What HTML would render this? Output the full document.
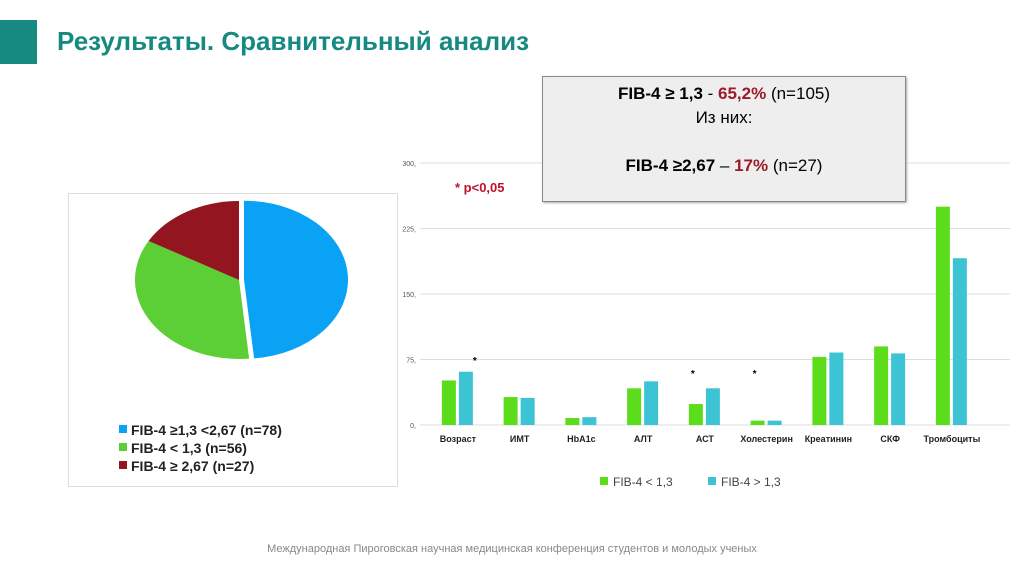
<!DOCTYPE html>
<html><head><meta charset="utf-8"><style>
body{margin:0;width:1024px;height:574px;background:#fff;font-family:"Liberation Sans",sans-serif;position:relative;overflow:hidden}
.abs{position:absolute}
</style></head><body>
<div class="abs" style="left:0;top:20px;width:37px;height:44px;background:#168a80"></div>
<div class="abs" style="left:57px;top:26px;font-size:26px;font-weight:bold;color:#168a80;transform:scaleX(1.0);transform-origin:left">Результаты. Сравнительный анализ</div>
<div class="abs" style="left:68px;top:193px;width:328px;height:292px;border:1px solid #ddd"></div>
<svg class="abs" style="left:0;top:0" width="1024" height="574" id="svg"></svg>
<div class="abs" style="left:542px;top:76px;width:364px;height:126px;background:#eee;border:1.5px solid #888;box-shadow:1px 1px 2px #aaa;text-align:center;font-size:17px;line-height:24px;padding-top:5px;box-sizing:border-box">
<div><b>FIB-4 ≥ 1,3</b> - <b style="color:#9b1b2a">65,2%</b> (n=105)</div>
<div>Из них:</div><div>&nbsp;</div>
<div><b>FIB-4 ≥2,67</b> – <b style="color:#9b1b2a">17%</b> (n=27)</div></div>
<div class="abs" style="left:455px;top:180px;font-size:13px;font-weight:bold;color:#c0102a">* p&lt;0,05</div>
<div class="abs" style="left:0;width:1024px;top:543px;text-align:center;font-size:11px;color:#888">Международная Пироговская научная медицинская конференция студентов и молодых ученых</div>
<script>
const categories=["Возраст","ИМТ","HbA1c","АЛТ","АСТ","Холестерин","Креатинин","СКФ","Тромбоциты"];
const seriesLow=[51,32,8,42,24,5,78,90,250];
const seriesHigh=[61,31,9,50,42,5,83,82,191];
const ticks=[0,75,150,225,300];
const starred=[0,4,5];
const pieLabels=["FIB-4 ≥1,3 <2,67 (n=78)","FIB-4 < 1,3 (n=56)","FIB-4 ≥ 2,67 (n=27)"];
const pieValues=[78,56,27];
const pieColors=["#0aa2f5","#5ccf36","#92151f"];
const NS="http://www.w3.org/2000/svg",svg=document.getElementById('svg');
function mk(t,a,p){const e=document.createElementNS(NS,t);for(const k in a)e.setAttribute(k,a[k]);(p||svg).appendChild(e);return e;}
const y=v=>425-v*(262/300), x0=427, step=61.75, gx0=420, gx1=1010;
ticks.forEach(t=>{
 const l=mk('line',{x1:gx0,x2:gx1,y1:y(t),y2:y(t),stroke:'#ddd'});
 
 const tx=mk('text',{x:gx0-4,y:y(t)+3,'font-size':7,'text-anchor':'end',fill:'#555'});tx.textContent=t+',';
 
});
categories.forEach((c,i)=>{
 const cx=x0+step*(i+0.5);
 const g=mk('rect',{x:cx-16,y:y(seriesLow[i]),width:14,height:425-y(seriesLow[i]),fill:'#5cdd1c'});
 
 const b=mk('rect',{x:cx+1,y:y(seriesHigh[i]),width:14,height:425-y(seriesHigh[i]),fill:'#3cc4d4'});
 
 const t=mk('text',{x:cx,y:442,'font-size':9,'font-weight':'bold','text-anchor':'middle',fill:'#222'});t.textContent=c;
 
 if(starred.includes(i)){const s=mk('text',{x:i===0?cx+17:cx-12,y:i===0?364:377,'font-size':10,'font-weight':'bold','text-anchor':'middle'});s.textContent='*';
 }
});
[["FIB-4 < 1,3","#5cdd1c",600],["FIB-4 > 1,3","#3cc4d4",708]].forEach(([l,c,xx])=>{
 const r=mk('rect',{x:xx,y:477,width:8,height:8,fill:c});
 const t=mk('text',{x:xx+13,y:486,'font-size':12,fill:'#444'});t.textContent=l;
});
const total=pieValues.reduce((a,b)=>a+b,0),cx=239,cy=280,rx=104,ry=79;let a0=0;
pieValues.forEach((v,i)=>{
 const a1=a0+v/total*2*Math.PI,off=i===0?5:0,mid=(a0+a1)/2;
 const ox=cx+off*Math.sin(mid),oy=cy-off*Math.cos(mid);
 const p=(a)=>[ox+rx*Math.sin(a),oy-ry*Math.cos(a)];
 const s=p(a0),e=p(a1),large=(a1-a0)>Math.PI?1:0;
 const el=mk('path',{d:`M${ox},${oy}L${s[0]},${s[1]}A${rx},${ry} 0 ${large} 1 ${e[0]},${e[1]}Z`,fill:pieColors[i]});
 
 a0=a1;
 const r=mk('rect',{x:119,y:425+i*18,width:8,height:8,fill:pieColors[i]});
 const t=mk('text',{x:131,y:435+i*18,'font-size':14,'font-weight':'bold',fill:'#222'});t.textContent=pieLabels[i];
 
});
</script>
</body></html>
